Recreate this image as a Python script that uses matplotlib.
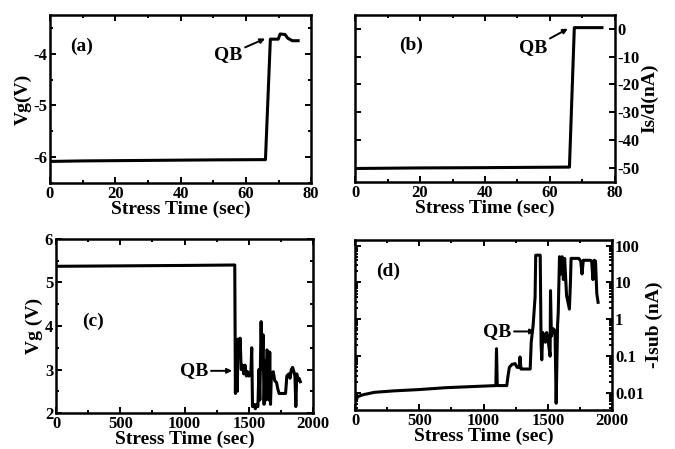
import numpy as np
import matplotlib
matplotlib.use("Agg")
import matplotlib.pyplot as plt
from matplotlib.ticker import MultipleLocator, FixedLocator, FixedFormatter, NullFormatter

plt.rcParams['font.family'] = ['Liberation Serif', 'DejaVu Serif']
plt.rcParams['font.weight'] = 'bold'
plt.rcParams['axes.unicode_minus'] = False

# (a) gate voltage vs stress time, short stress
t_a = [0, 10, 30, 50, 66, 67.5, 69.9, 70.5, 72, 72.8, 74.2, 76]
vg_a = [-6.08, -6.07, -6.06, -6.05, -6.045, -3.72, -3.72, -3.62, -3.63, -3.70, -3.75, -3.75]

# (b) source/drain current vs stress time
t_b = [0, 20, 40, 66, 67.5, 76]
isd_b = [-50.2, -50.0, -49.9, -49.7, 0.4, 0.4]

# (c) gate voltage vs stress time, long stress
t_c = [0, 500, 1000, 1390, 1395, 1400, 1410, 1415, 1425, 1432, 1440, 1450, 1460, 1470,
       1480, 1490, 1500, 1515, 1522, 1528, 1540, 1550, 1560, 1570, 1578, 1585, 1595,
       1602, 1610, 1618, 1625, 1632, 1640, 1650, 1655, 1662, 1668, 1675, 1690, 1700,
       1715, 1725, 1735, 1785, 1795, 1810, 1820, 1830, 1840, 1850, 1858, 1865, 1872,
       1880, 1890, 1900]
vg_c = [5.37, 5.38, 5.39, 5.40, 2.45, 3.6, 2.5, 3.7, 3.3, 3.72, 3.0, 3.1, 2.9, 3.1,
        2.85, 2.95, 2.85, 2.9, 3.5, 2.15, 2.2, 2.1, 2.2, 2.15, 3.0, 2.3, 4.1,
        3.0, 3.8, 2.2, 3.2, 2.3, 3.45, 3.4, 2.3, 3.4, 2.2, 2.9, 2.95, 2.75,
        2.7, 2.55, 2.45, 2.45, 2.85, 2.9, 2.8, 3.0, 3.05, 2.95, 2.85, 2.15, 2.9,
        2.75, 2.8, 2.72]

# (d) substrate current vs stress time
t_d = [0, 10, 20, 60, 150, 300, 500, 700, 900, 1095, 1100, 1106, 1115, 1180, 1190,
       1200, 1220, 1245, 1260, 1278, 1283, 1290, 1300, 1362, 1370, 1385, 1400, 1405,
       1440, 1447, 1452, 1460, 1480, 1490, 1500, 1517, 1520, 1527, 1540, 1555, 1564,
       1575, 1580, 1590, 1600, 1610, 1620, 1630, 1645, 1667, 1675, 1680, 1690, 1740,
       1755, 1765, 1775, 1790, 1820, 1830, 1840, 1850, 1860, 1870, 1880, 1890]
isub_d = [0.007, 0.0065, 0.008, 0.009, 0.0105, 0.0115, 0.0125, 0.014, 0.015, 0.016, 0.16,
          0.016, 0.016, 0.016, 0.03, 0.05, 0.06, 0.063, 0.05, 0.05, 0.096, 0.045, 0.045,
          0.045, 0.24, 0.7, 4.0, 55, 55, 0.2, 0.08, 0.44, 0.24, 0.44, 0.3, 0.1, 6.0,
          0.35, 0.56, 0.5, 0.0053, 0.7, 1.5, 50, 17, 50, 12, 45, 4.4, 1.9, 10, 45,
          45, 45, 38, 17, 40, 40, 40, 40, 38, 12, 40, 38, 5, 2.9]

fig = plt.figure(figsize=(6.75, 4.49), dpi=100)

ax_a = fig.add_axes([0.074, 0.592, 0.387, 0.375])
ax_b = fig.add_axes([0.526, 0.595, 0.385, 0.372])
ax_c = fig.add_axes([0.083, 0.080, 0.381, 0.388])
ax_d = fig.add_axes([0.526, 0.087, 0.381, 0.378])

LW = 2.2
FS_TICK = 12
FS_LAB = 14
FS_TXT = 14


def style(ax):
    for s in ax.spines.values():
        s.set_linewidth(1.8)
    ax.tick_params(which='both', direction='in', top=True, right=True,
                   left=True, bottom=True, labelsize=FS_TICK, width=1.4, pad=2)
    ax.tick_params(which='major', length=4)
    ax.tick_params(which='minor', length=2.5)
    ax.set_xlabel('Stress Time (sec)', fontsize=FS_LAB, fontweight='bold', labelpad=-1)


arrow = dict(arrowstyle='-|>', color='k', lw=1.4, mutation_scale=7, shrinkA=0, shrinkB=0)

# (a)
ax_a.plot(t_a, vg_a, color='k', lw=LW)
ax_a.set_xlim(0, 80)
ax_a.set_ylim(-6.5, -3.25)
ax_a.xaxis.set_major_locator(MultipleLocator(20))
ax_a.xaxis.set_minor_locator(MultipleLocator(10))
ax_a.yaxis.set_major_locator(FixedLocator([-6, -5, -4]))
ax_a.yaxis.set_minor_locator(MultipleLocator(0.5))
style(ax_a)
ax_a.set_ylabel('Vg(V)', fontsize=FS_LAB, fontweight='bold', labelpad=1)
ax_a.text(9.8, -3.85, '(a)', fontsize=FS_TXT, fontweight='bold', ha='center', va='center')
ax_a.annotate('QB', xy=(65.9, -3.71), xytext=(54.6, -4.02), fontsize=FS_TXT,
              fontweight='bold', ha='center', va='center', arrowprops=arrow)

# (b)
ax_b.plot(t_b, isd_b, color='k', lw=LW)
ax_b.set_xlim(0, 80)
ax_b.set_ylim(-55, 5)
ax_b.xaxis.set_major_locator(MultipleLocator(20))
ax_b.xaxis.set_minor_locator(MultipleLocator(10))
ax_b.yaxis.set_major_locator(MultipleLocator(10))
style(ax_b)
ax_b.yaxis.tick_right()
ax_b.tick_params(which='both', left=True, right=True, labelleft=False, labelright=True)
ax_b.yaxis.set_label_position('right')
ax_b.set_ylabel('Is/d(nA)', fontsize=FS_LAB, fontweight='bold', labelpad=1)
ax_b.text(17.2, -6, '(b)', fontsize=FS_TXT, fontweight='bold', ha='center', va='center')
ax_b.annotate('QB', xy=(65.5, 0), xytext=(54.8, -6.8), fontsize=FS_TXT,
              fontweight='bold', ha='center', va='center', arrowprops=arrow)

# (c)
ax_c.plot(t_c, vg_c, color='k', lw=LW)
ax_c.set_xlim(0, 2000)
ax_c.set_ylim(2, 6)
ax_c.xaxis.set_major_locator(MultipleLocator(500))
ax_c.xaxis.set_minor_locator(MultipleLocator(250))
ax_c.yaxis.set_major_locator(MultipleLocator(1))
ax_c.yaxis.set_minor_locator(MultipleLocator(0.5))
style(ax_c)
ax_c.set_ylabel('Vg (V)', fontsize=FS_LAB, fontweight='bold', labelpad=1)
ax_c.text(288, 4.1, '(c)', fontsize=FS_TXT, fontweight='bold', ha='center', va='center')
ax_c.annotate('QB', xy=(1369, 2.97), xytext=(1074, 2.97), fontsize=FS_TXT,
              fontweight='bold', ha='center', va='center', arrowprops=arrow)

# (d)
ax_d.plot(t_d, isub_d, color='k', lw=LW)
ax_d.set_yscale('log')
ax_d.set_xlim(0, 2000)
ax_d.set_ylim(0.0035, 140)
ax_d.xaxis.set_major_locator(MultipleLocator(500))
ax_d.xaxis.set_minor_locator(MultipleLocator(250))
ax_d.yaxis.set_major_locator(FixedLocator([0.01, 0.1, 1, 10, 100]))
ax_d.yaxis.set_major_formatter(FixedFormatter(['0.01', '0.1', '1', '10', '100']))
ax_d.yaxis.set_minor_formatter(NullFormatter())
style(ax_d)
ax_d.yaxis.tick_right()
ax_d.tick_params(which='both', left=True, right=True, labelleft=False, labelright=True)
ax_d.yaxis.set_label_position('right')
ax_d.set_ylabel('-Isub (nA)', fontsize=FS_LAB, fontweight='bold', labelpad=1)
ax_d.text(257, 20, '(d)', fontsize=FS_TXT, fontweight='bold', ha='center', va='center')
ax_d.annotate('QB', xy=(1400, 0.47), xytext=(1105, 0.47), fontsize=FS_TXT,
              fontweight='bold', ha='center', va='center', arrowprops=arrow)

fig.savefig('out.png', dpi=100)
